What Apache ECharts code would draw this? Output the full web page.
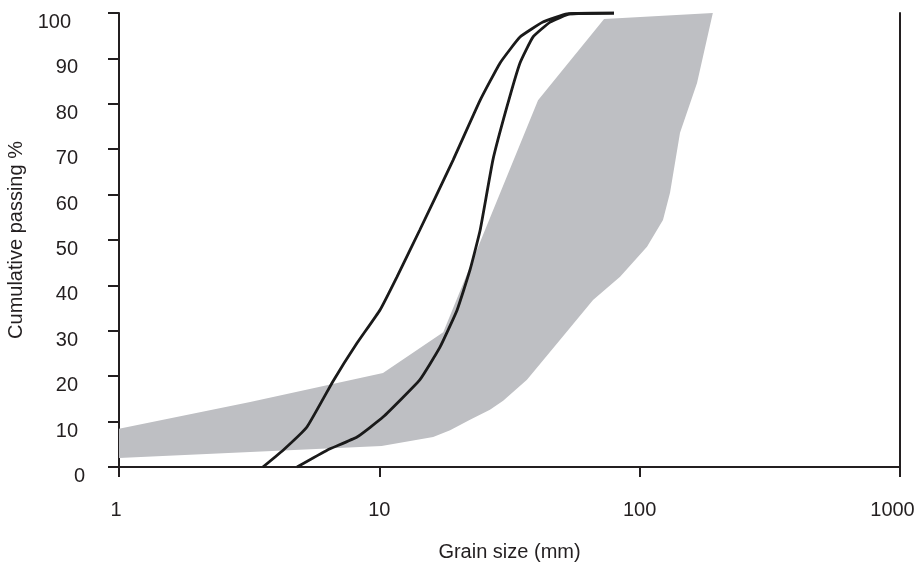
<!DOCTYPE html>
<html>
<head>
<meta charset="utf-8">
<script src="https://cdn.jsdelivr.net/npm/echarts@6/dist/echarts.min.js"></script>
<style>
html,body{margin:0;padding:0;background:#fff;}
#chart{width:918px;height:565px;}
</style>
</head>
<body>
<div id="chart"></div>
<script>
// Envelope (grey band) – upper and lower boundaries
const bandUpperX = [1, 3.19, 10.33, 17.6, 40.7, 73.0, 191];
const bandUpperY = [8.4, 14.3, 20.7, 29.7, 80.8, 98.7, 100];
const bandLowerX = [1, 10.2, 16.1, 18.7, 22.3, 26.6, 29.9, 36.9, 49.4, 66.2, 84.1, 106.7, 122.9, 130.8, 142.9, 166.1, 191];
const bandLowerY = [2.0, 4.6, 6.6, 8.1, 10.4, 12.6, 14.6, 19.2, 28.0, 36.8, 41.9, 48.5, 54.4, 60.4, 73.6, 84.6, 100];

// Grading curves
const curveAX = [3.57, 4.27, 5.27, 6.64, 8.21, 10.06, 11.69, 14.3, 19.2, 24.4, 29.1, 34.7, 42.5, 52.6, 79.7];
const curveAY = [0, 3.7, 8.8, 18.9, 27.3, 34.6, 41.9, 52.2, 67.6, 80.8, 89.0, 94.7, 98.0, 99.8, 100];
const curveBX = [4.83, 6.30, 8.21, 10.33, 14.3, 17.1, 19.9, 22.3, 24.4, 27.3, 30.9, 34.7, 38.9, 45.3, 54.0, 79.7];
const curveBY = [0, 3.7, 6.6, 11.0, 19.2, 26.4, 34.6, 43.4, 52.2, 67.6, 79.3, 89.0, 94.7, 98.0, 99.8, 100];

// Axis text
const xAxisTitle = 'Grain size (mm)';
const yAxisTitle = 'Cumulative passing %';

const pairs = (xs, ys) => xs.map((x, i) => [x, ys[i]]);
const upper = pairs(bandUpperX, bandUpperY);
const lower = pairs(bandLowerX, bandLowerY);

const FONT = "'Liberation Sans', Arial, sans-serif";
const INK = '#231f20';
const axisLineStyle = { color: INK, width: 2 };

const chart = echarts.init(document.getElementById('chart'), null, { renderer: 'canvas' });

chart.setOption({
  animation: false,
  backgroundColor: '#ffffff',
  grid: { left: 119, right: 18, top: 13, bottom: 98, containLabel: false, outerBoundsMode: 'none' },
  xAxis: [{
    type: 'log', logBase: 10, min: 1, max: 1000, position: 'bottom',
    axisLine: { show: true, lineStyle: axisLineStyle },
    axisTick: { show: true, inside: false, length: 10, lineStyle: axisLineStyle },
    minorTick: { show: false },
    splitLine: { show: false },
    axisLabel: {
      margin: 33, color: INK, fontFamily: FONT, fontSize: 20,
      formatter: v => v === 1 ? '{p|1}' : (v === 1000 ? '{q|1000}' : '{n|' + v + '}'),
      rich: {
        n: { fontFamily: FONT, fontSize: 20, color: INK },
        p: { fontFamily: FONT, fontSize: 20, color: INK, padding: [0, 6, 0, 0] },
        q: { fontFamily: FONT, fontSize: 20, color: INK, padding: [0, 15, 0, 0] }
      }
    },
    name: xAxisTitle, nameLocation: 'middle', nameGap: 75,
    nameTextStyle: { color: INK, fontFamily: FONT, fontSize: 20 }
  }, {
    type: 'log', logBase: 10, min: 1, max: 1000, position: 'top',
    axisLine: { show: true, lineStyle: axisLineStyle },
    axisTick: { show: false }, axisLabel: { show: false }, splitLine: { show: false }
  }],
  yAxis: [{
    type: 'value', min: 0, max: 100, interval: 10, position: 'left',
    axisLine: { show: true, lineStyle: axisLineStyle },
    axisTick: { show: true, inside: false, length: 11, lineStyle: axisLineStyle },
    splitLine: { show: false },
    axisLabel: {
      margin: 34, color: INK, fontFamily: FONT, fontSize: 20,
      formatter: v => v === 0 ? '{a|0}' : (v === 100 ? '{c|100}' : '{b|' + v + '}'),
      rich: {
        a: { fontFamily: FONT, fontSize: 20, color: INK, padding: [19, 0, 0, 0] },
        b: { fontFamily: FONT, fontSize: 20, color: INK, padding: [19, 7, 0, 0] },
        c: { fontFamily: FONT, fontSize: 20, color: INK, padding: [19, 14, 0, 0] }
      }
    },
    name: yAxisTitle, nameLocation: 'middle', nameGap: 77,
    nameTextStyle: { color: INK, fontFamily: FONT, fontSize: 20 }
  }, {
    type: 'value', min: 0, max: 100, position: 'right',
    axisLine: { show: true, lineStyle: axisLineStyle },
    axisTick: { show: false }, axisLabel: { show: false }, splitLine: { show: false }
  }],
  series: [{
    type: 'custom',
    name: 'Envelope',
    xAxisIndex: 0, yAxisIndex: 0,
    data: upper.concat(lower.slice().reverse()),
    encode: { x: 0, y: 1 },
    renderItem: function (params, api) {
      if (params.dataIndex !== 0) return null;
      const poly = upper.map(p => api.coord(p)).concat(lower.slice().reverse().map(p => api.coord(p)));
      return {
        type: 'polygon',
        shape: { points: poly },
        style: { fill: '#bebfc3', stroke: null }
      };
    },
    z: 1
  }, {
    type: 'line', name: 'Curve A', xAxisIndex: 0, yAxisIndex: 0,
    data: pairs(curveAX, curveAY), showSymbol: false, smooth: 0.12,
    lineStyle: { color: '#1a1a1a', width: 2.8 }, z: 3
  }, {
    type: 'line', name: 'Curve B', xAxisIndex: 0, yAxisIndex: 0,
    data: pairs(curveBX, curveBY), showSymbol: false, smooth: 0.12,
    lineStyle: { color: '#1a1a1a', width: 2.8 }, z: 3
  }]
});
</script>
</body>
</html>
